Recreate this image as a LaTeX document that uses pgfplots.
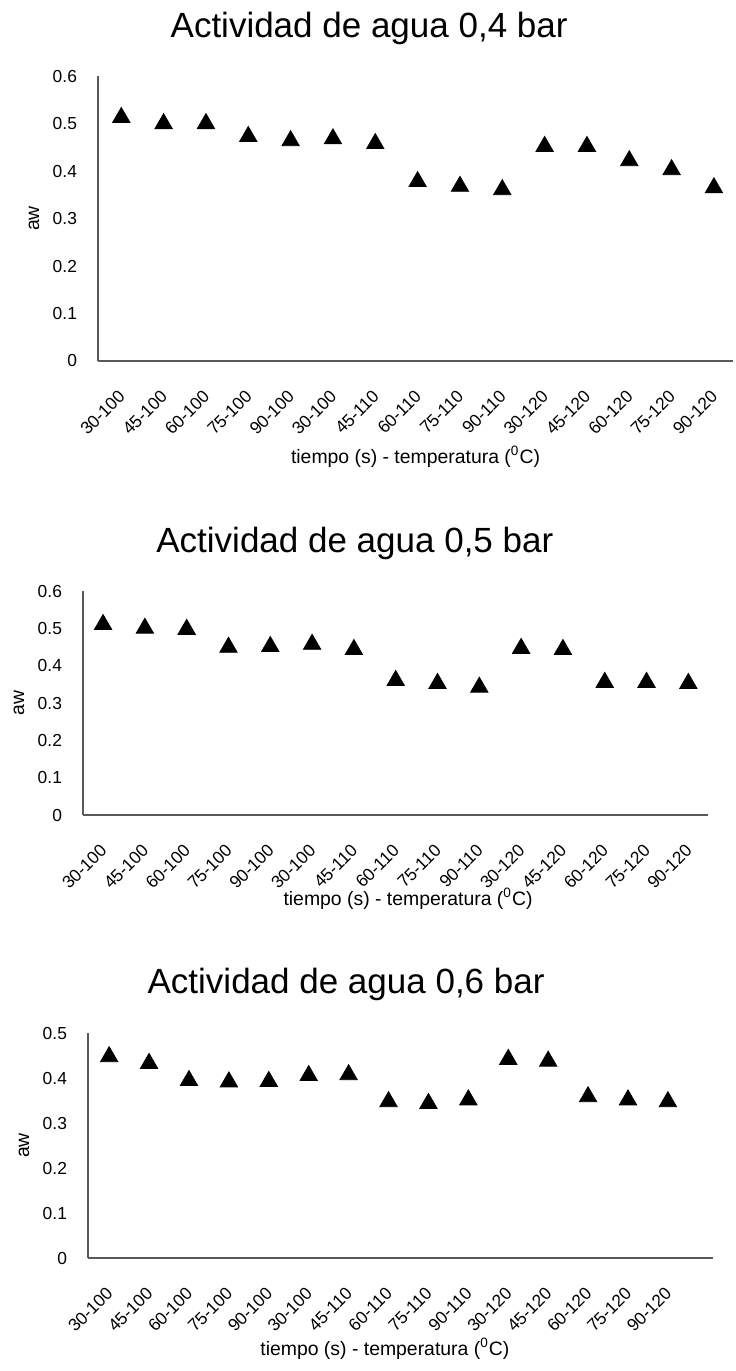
\documentclass[border=0pt]{standalone}
\usepackage{fontspec}
\setmainfont{Liberation Sans}
\usepackage{pgfplots}
\pgfplotsset{compat=1.18}

\definecolor{axisgray}{HTML}{595959}

% 1 px of the reference = 0.5pt
\pgfplotsset{
  awplot/.style={
    scale only axis,
    axis lines*=left,
    axis line style={draw=axisgray, line width=0.6pt, -},
    major tick length=0pt,
    ymin=0,
    ytick distance=0.1,
    xtick={0,...,14},
    xticklabels={30-100,45-100,60-100,75-100,90-100,30-100,45-110,60-110,75-110,90-110,30-120,45-120,60-120,75-120,90-120},
    % shift first, then rotate, so the shift stays in the page frame
    xticklabel style={xshift=-2pt, yshift=-9pt, rotate=45, anchor=north east, font=\fontsize{8.7}{10}\selectfont},
    yticklabel style={xshift=-7pt, font=\fontsize{8.7}{10}\selectfont},
    /pgf/number format/fixed,
    /pgf/number format/precision=1,
    /pgf/number format/assume math mode=true,
    ylabel={aw},
    ylabel style={at={([xshift=-32pt]axis description cs:0,0.5)}, anchor=center, font=\fontsize{9.7}{11}\selectfont},
    xlabel={tiempo (s) - temperatura (\textsuperscript{0}C)},
    xlabel style={anchor=base, font=\fontsize{9.7}{11}\selectfont},
    title style={anchor=base, font=\fontsize{17.5}{20}\selectfont},
    clip=false,
  },
  awmark/.style={only marks, mark=triangle*, mark size=5pt, black, mark options={yshift=-1.25pt}},
}

\begin{document}
\begin{tikzpicture}
\useasboundingbox (0,0) rectangle (367.5pt,-685.5pt);

% 0,4 bar
\begin{axis}[awplot,
  at={(49pt,-180.5pt)}, anchor=south west,
  width=317.5pt, height=142.5pt,
  xmin=-0.55, xmax=14.45, ymax=0.6,
  title={Actividad de agua 0,4 bar},
  title style={at={([yshift=13.5pt]axis description cs:0.427,1)}},
  xlabel style={at={([yshift=-51pt]axis description cs:0.5,0)}},
]
\addplot[awmark] coordinates {
  (0,0.518) (1,0.505) (2,0.505) (3,0.478) (4,0.469) (5,0.473) (6,0.463)
  (7,0.383) (8,0.373) (9,0.366) (10,0.457) (11,0.457) (12,0.427) (13,0.408) (14,0.370)
};
\end{axis}

% 0,5 bar
\begin{axis}[awplot,
  at={(41.5pt,-407.5pt)}, anchor=south west,
  width=312.5pt, height=112pt,
  xmin=-0.48, xmax=14.47, ymax=0.6,
  title={Actividad de agua 0,5 bar},
  title style={at={([yshift=13.5pt]axis description cs:0.435,1)}},
  xlabel style={at={([yshift=-45pt]axis description cs:0.52,0)}},
]
\addplot[awmark] coordinates {
  (0,0.517) (1,0.507) (2,0.504) (3,0.456) (4,0.458) (5,0.464) (6,0.450)
  (7,0.367) (8,0.359) (9,0.349) (10,0.453) (11,0.450) (12,0.362) (13,0.362) (14,0.359)
};
\end{axis}

% 0,6 bar
\begin{axis}[awplot,
  at={(44pt,-629pt)}, anchor=south west,
  width=312.5pt, height=112.5pt,
  xmin=-0.53, xmax=15.13, ymax=0.5,
  title={Actividad de agua 0,6 bar},
  title style={at={([yshift=14pt]axis description cs:0.413,1)}},
  xlabel style={at={([yshift=-48.5pt]axis description cs:0.475,0)}},
]
\addplot[awmark] coordinates {
  (0,0.453) (1,0.438) (2,0.400) (3,0.397) (4,0.398) (5,0.411) (6,0.413)
  (7,0.353) (8,0.349) (9,0.357) (10,0.447) (11,0.443) (12,0.364) (13,0.357) (14,0.353)
};
\end{axis}
\end{tikzpicture}
\end{document}
